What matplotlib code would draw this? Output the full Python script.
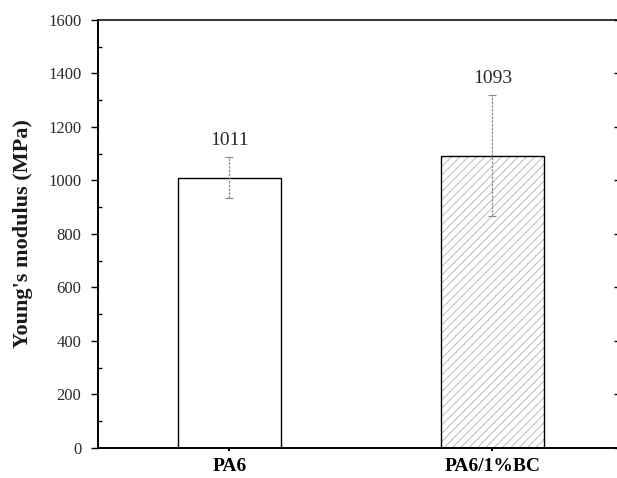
import matplotlib.pyplot as plt
from matplotlib.ticker import MultipleLocator

# Young's modulus of neat PA6 and PA6 with 1% BC
samples = ["PA6", "PA6/1%BC"]
modulus = [1011, 1093]
modulus_err = [77, 225]
hatches = ["", "////"]

plt.rcParams["font.family"] = ["Liberation Serif", "DejaVu Serif"]
plt.rcParams["hatch.linewidth"] = 0.6

fig = plt.figure(figsize=(6.17, 4.78), dpi=100)
# right spine sits just past the figure edge, only its ticks show
ax = fig.add_axes([0.1588, 0.0628, 0.8525, 0.8954])

x = [1, 2]
width = 0.39

# hatch in light grey, outline in black drawn on top
ax.bar(x, modulus, width, color="white", edgecolor="#b0b0b0",
       hatch=hatches, linewidth=0)
ax.bar(x, modulus, width, fill=False, edgecolor="black", linewidth=1.0)

eb = ax.errorbar(x, modulus, yerr=modulus_err, fmt="none", ecolor="#8a8a8a",
                 elinewidth=0.9, capsize=3, capthick=0.8)
eb[2][0].set_linestyle((0, (2, 1)))

for xi, val, err in zip(x, modulus, modulus_err):
    ax.annotate(str(val), (xi, val + err), xytext=(0, 6),
                textcoords="offset points", ha="center", va="bottom",
                fontsize=14, color="#2a2a2a")

ax.set_xlim(0.5, 2.5)
ax.set_ylim(0, 1600)
ax.set_xticks(x)
ax.set_xticklabels(samples, fontsize=14, fontweight="bold")
ax.yaxis.set_major_locator(MultipleLocator(200))
ax.yaxis.set_minor_locator(MultipleLocator(100))
ax.tick_params(axis="y", which="major", direction="out", length=5,
               width=1.0, labelsize=12, pad=7, labelcolor="#2a2a2a")
ax.tick_params(axis="y", which="minor", direction="in", length=3, width=1.0)
ax.tick_params(axis="x", direction="out", length=2, width=1.5, pad=5)
ax.set_ylabel("Young's modulus (MPa)", fontsize=16, fontweight="bold",
              labelpad=11, color="#1a1a1a")

for side in ["left", "bottom"]:
    ax.spines[side].set_linewidth(1.4)
ax.spines["top"].set_linewidth(1.1)
ax.spines["right"].set_linewidth(1.1)

# inward ticks on the right side, no labels
right = ax.secondary_yaxis("right")
right.yaxis.set_major_locator(MultipleLocator(200))
right.tick_params(direction="in", length=7, width=1.0, labelright=False)

fig.savefig("out.png", dpi=100)
